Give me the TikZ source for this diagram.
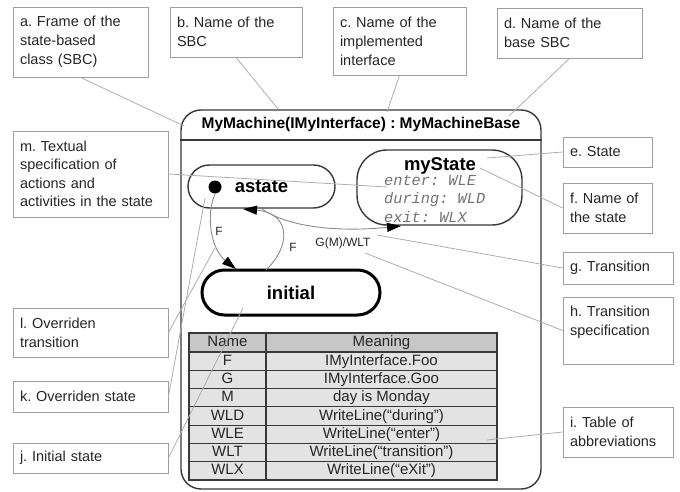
\documentclass[tikz,border=0pt]{standalone}
\usepackage{fontspec}
\setmainfont{Liberation Sans}
\setmonofont{Liberation Mono}
\usetikzlibrary{arrows.meta}
\frenchspacing
\definecolor{cbord}{gray}{0.62}
\definecolor{cline}{gray}{0.68}
\definecolor{ctext}{gray}{0.15}
\definecolor{cframe}{gray}{0.22}
\definecolor{ctrans}{gray}{0.55}
\definecolor{cmono}{gray}{0.45}
\definecolor{thead}{gray}{0.78}
\definecolor{trow}{gray}{0.89}
\tikzset{
  callout/.style={draw=cbord, line width=0.8pt, fill=white, text=ctext,
    font=\fontsize{14.5}{19}\selectfont, align=left, inner xsep=7pt, inner ysep=0pt},
  conn/.style={draw=cline, line width=0.8pt},
  statebox/.style={draw=cframe, line width=1.4pt, inner sep=0pt,
    font=\fontsize{18.5}{22}\selectfont\bfseries},
  trans/.style={draw=ctrans, line width=0.9pt,
    -{Triangle[length=14pt,width=9pt,color=black,fill=black]}},
  tlabel/.style={font=\fontsize{12}{14}\selectfont, text=ctext, inner sep=0pt},
  cellbox/.style={draw=cframe, line width=1.1pt, inner sep=0pt, text=ctext,
    font=\fontsize{15}{17}\selectfont, text height=11pt, text depth=3pt},
}
\begin{document}
\begin{tikzpicture}[x=1pt,y=-1pt]
\useasboundingbox (0,0) rectangle (680,492);

% frame of the SBC
\node[draw=cframe, line width=1.4pt, rounded corners=20pt, minimum width=360pt,
      minimum height=379pt, inner sep=0pt] (frame) at (361,299.5) {};
\coordinate (sepy) at (0,140);
\draw[cframe, line width=1.4pt] (frame.west |- sepy) -- (frame.east |- sepy);
\node[font=\fontsize{15.5}{18}\selectfont\bfseries, text=black] (title) at (361,124)
  {MyMachine(IMyInterface) : MyMachineBase};

% states
\node[statebox, rounded corners=21.5pt, minimum width=147pt, minimum height=43pt]
  (astate) at (261.5,186.5) {astate};
\node[circle, fill=black, minimum size=13pt, inner sep=0pt] (dot) at (215,187) {};
\node[statebox, rounded corners=30pt, minimum width=165pt, minimum height=75pt]
  (mystate) at (439.5,187.5) {};
\node[font=\fontsize{18.5}{22}\selectfont\bfseries, inner sep=0pt] (mystatename) at (440,166) {myState};
\node[anchor=west, font=\fontsize{15.3}{18.5}\selectfont\ttfamily\itshape, text=cmono,
      align=left, inner sep=0pt] (acts) at (384,198.5) {enter: WLE\\during: WLD\\exit: WLX};
\node[draw=black, line width=3pt, rounded corners=22.5pt, minimum width=178pt,
      minimum height=45pt, inner sep=0pt, font=\fontsize{18.5}{22}\selectfont\bfseries]
  (initial) at (291,292.5) {initial};

% transitions
\coordinate (ovend) at (236,269);
\coordinate (initsrc) at (266,270);
\coordinate (astin) at (243,209);
\coordinate (gsrc) at (262,209);
\coordinate (gend) at (401,226);
\draw[trans] (dot.south) .. controls (205,218) and (212,250) .. (ovend);
\draw[trans] (initsrc) .. controls (292,245) and (290,213) .. (astin);
\draw[trans] (gsrc) .. controls (290,228) and (340,232) .. (gend);
\node[tlabel] (lf1) at (219,231) {F};
\node[tlabel] (lf2) at (293,247) {F};
\node[tlabel] (lg) at (343,243) {G(M)/WLT};

% table of abbreviations
\node[cellbox, fill=thead, minimum width=77pt, minimum height=19pt] (h1) at (227.5,342.5) {Name};
\node[cellbox, fill=thead, minimum width=231pt, minimum height=19pt] (h2) at (381.5,342.5) {Meaning};
\foreach \i/\n/\m in {1/F/IMyInterface.Foo, 2/G/IMyInterface.Goo, 3/M/day is Monday,
    4/WLD/WriteLine(“during”), 5/WLE/WriteLine(“enter”), 6/WLT/WriteLine(“transition”),
    7/WLX/WriteLine(“eXit”)} {
  \node[cellbox, fill=trow, minimum width=77pt, minimum height=18.286pt]
    (n\i) at (227.5,{352+(\i-0.5)*18.286}) {\n};
  \node[cellbox, fill=trow, minimum width=231pt, minimum height=18.286pt]
    (m\i) at (381.5,{352+(\i-0.5)*18.286}) {\m};
}

% callouts
\node[callout, text width=121pt, minimum height=70pt] (a) at (80.5,42) {a. Frame of the\\state-based\\class (SBC)};
\node[callout, text width=118pt, minimum height=50pt] (b) at (236,32) {b. Name of the\\SBC};
\node[callout, text width=119pt, minimum height=68pt] (c) at (399.5,41) {c. Name of the\\implemented\\interface};
\node[callout, text width=131pt, minimum height=50pt] (d) at (569.5,33) {d. Name of the\\base SBC};
\node[callout, text width=75pt, minimum height=30pt] (e) at (607.5,152) {e. State};
\node[callout, text width=75pt, minimum height=50pt] (f) at (607.5,208) {f. Name of\\the state};
\node[callout, text width=96pt, minimum height=32pt] (g) at (618,268) {g. Transition};
\node[callout, text width=96pt, minimum height=67pt] (h) at (618,330.5) {h. Transition\\specification\\\mbox{}};
\node[callout, text width=96pt, minimum height=50pt] (i) at (618,432) {i. Table of\\abbreviations};
\node[callout, text width=141pt, minimum height=86pt, font=\fontsize{14.5}{18.4}\selectfont] (m) at (90.5,174) {m. Textual\\specification of\\actions and\\activities in the state};
\node[callout, text width=141pt, minimum height=49pt] (l) at (90.5,332.5) {l. Overriden\\transition};
\node[callout, text width=141pt, minimum height=31pt] (k) at (90.5,396.5) {k. Overriden state};
\node[callout, text width=141pt, minimum height=30pt] (j) at (90.5,458) {j. Initial state};

% connector end points
\coordinate (pa) at (184,126);
\coordinate (pb) at (278,109);
\coordinate (pc) at (387,112);
\coordinate (pd) at (509,116);
\coordinate (pe) at (487,158);
\coordinate (pf) at (480,168);
\coordinate (pg) at (377,235);
\coordinate (ph) at (365,253);
\coordinate (pi) at (487,440);
\coordinate (pm) at (387,187);
\coordinate (pl) at (215,248);
\coordinate (pk) at (205,198);
\coordinate (pj) at (243,308);

\draw[conn] (a.south) -- (pa);
\draw[conn] (b.south) -- (pb);
\draw[conn] (c.south) -- (pc);
\draw[conn] (d.south) -- (pd);
\draw[conn] (e.west) -- (pe);
\draw[conn] (f.west) -- (pf);
\draw[conn] (g.west) -- (pg);
\draw[conn] (h.west) -- (ph);
\draw[conn] (i.west) -- (pi);
\draw[conn] (m.east) -- (pm);
\draw[conn] (l.east) -- (pl);
\draw[conn] (k.east) -- (pk);
\draw[conn] (j.east) -- (pj);
\end{tikzpicture}
\end{document}
